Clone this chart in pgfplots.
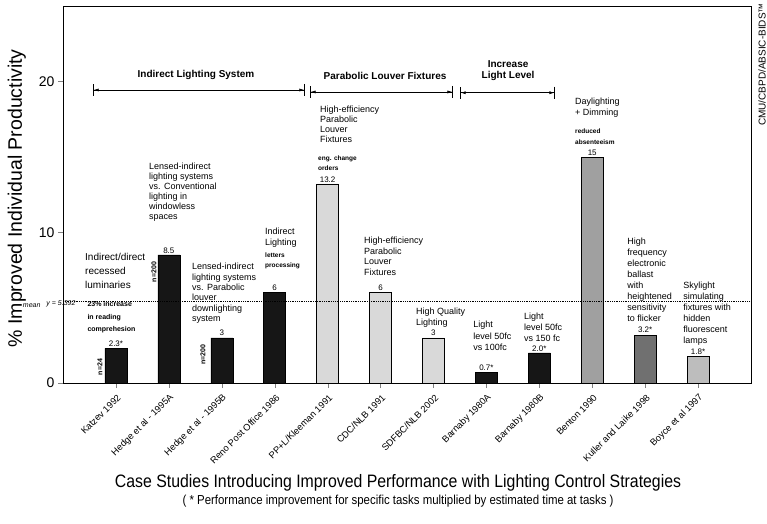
\documentclass[border=0pt]{standalone}
\usepackage{fontspec}
\setmainfont{Liberation Sans}
\newfontfamily\narrowfont[FakeStretch=0.88]{Liberation Sans}
\usepackage{pgfplots}
\pgfplotsset{compat=1.18}
\usetikzlibrary{arrows.meta}
\definecolor{barblack}{HTML}{161616}
\definecolor{barlight}{HTML}{D9D9D9}
\definecolor{barmid}{HTML}{A0A0A0}
\definecolor{bardark}{HTML}{707070}
\definecolor{barboyce}{HTML}{BDBDBD}
\newcommand{\fs}[2]{\fontsize{#1}{#2}\selectfont}
\begin{document}
\begin{tikzpicture}[x=1pt,y=1pt,
  ann/.style={anchor=north west, align=left, inner sep=0pt, font=\fs{9}{10.5}},
  sm/.style={anchor=north west, align=left, inner sep=0pt, font=\fs{6.5}{10}\bfseries},
  grp/.style={align=center, inner sep=0pt, font=\fs{10}{11.5}\bfseries},
  garr/.style={line width=0.6pt, {Bar[width=12pt]Latex[length=5pt,width=3pt]}-{Latex[length=5pt,width=3pt]Bar[width=12pt]}}]
\path (-63,-140) rectangle (704,383);
\begin{axis}[
  at={(0,0)}, anchor=south west,
  width=688pt, height=377pt, scale only axis,
  xmin=0, xmax=13, ymin=0, ymax=25,
  xtick={1,...,12},
  xticklabels={Katzev 1992, Hedge et al - 1995A, Hedge et al - 1995B, Reno Post Office 1986, PP+L/Kleeman 1991, CDC/NLB 1991, SDFBC/NLB 2002, Barnaby 1980A, Barnaby 1980B, Benton 1990, Kuller and Laike 1998, Boyce et al 1997},
  xticklabel style={rotate=45, anchor=east, yshift=-8pt, xshift=0pt, font=\fs{9.3}{10}},
  ytick={0,10,20},
  yticklabel style={font=\fs{14}{16}},
  /pgf/number format/assume math mode=true,
  tick align=outside,
  xtick pos=bottom, ytick pos=left,
  major tick length=5pt,
  ylabel={\% Improved Individual Productivity},
  ylabel style={at={(axis description cs:-0.067,0.49)}, anchor=center, font=\fs{19.5}{21}},
  clip=false,
  axis line style={line width=0.9pt},
  every node near coord/.append style={font=\fs{8}{9}, inner sep=1.5pt},
]
\addplot[ybar, bar width=22pt, bar shift=0pt, fill=barblack, draw=black,
  nodes near coords, point meta=explicit symbolic]
  coordinates {(1,2.3)[2.3*] (2,8.5)[8.5] (3,3)[3] (4,6)[6] (8,0.7)[0.7*] (9,2.0)[2.0*]};
\addplot[ybar, bar width=22pt, bar shift=0pt, fill=barlight, draw=black,
  nodes near coords, point meta=explicit symbolic]
  coordinates {(5,13.2)[13.2] (6,6)[6] (7,3)[3]};
\addplot[ybar, bar width=22pt, bar shift=0pt, fill=barmid, draw=black,
  nodes near coords, point meta=explicit symbolic]
  coordinates {(10,15)[15]};
\addplot[ybar, bar width=22pt, bar shift=0pt, fill=bardark, draw=black,
  nodes near coords, point meta=explicit symbolic]
  coordinates {(11,3.2)[3.2*]};
\addplot[ybar, bar width=22pt, bar shift=0pt, fill=barboyce, draw=black,
  nodes near coords, point meta=explicit symbolic]
  coordinates {(12,1.8)[1.8*]};
\addplot[densely dotted, line width=0.8pt] coordinates {(0,5.392) (13,5.392)};

% mean label
\node[anchor=west, inner sep=0pt, font=\fs{7}{8}\itshape] at (axis cs:-0.76,5.25) {\raisebox{-2pt}{mean}\hspace{6pt}y = 5.392};

% group headers
\node[grp] at (axis cs:2.513,20.42) {Indirect Lighting System};
\node[grp] at (axis cs:6.085,20.38) {Parabolic Louver Fixtures};
\node[grp] at (axis cs:8.41,20.72) {Increase\\Light Level};
\draw[garr] (axis cs:0.567,19.43) -- (axis cs:4.573,19.43);
\draw[garr] (axis cs:4.667,19.3) -- (axis cs:7.370,19.3);
\draw[garr] (axis cs:7.502,19.25) -- (axis cs:9.297,19.25);

% annotations
\node[ann, font=\fs{10}{14}] at (axis cs:0.416,8.62) {Indirect/direct\\recessed\\luminaries};
\node[sm, font=\fs{7}{12.5}\bfseries] at (axis cs:0.46,5.40) {23\% increase\\in reading\\comprehesion};
\node[rotate=90, inner sep=0pt, font=\fs{7}{8}\bfseries] at (axis cs:0.699,1.06) {n=24};

\node[ann, font=\fs{9}{10}] at (axis cs:1.625,14.59) {Lensed-indirect\\lighting systems\\vs. Conventional\\lighting in\\windowless\\spaces};
\node[rotate=90, inner sep=0pt, font=\fs{7}{8}\bfseries] at (axis cs:1.72,7.36) {n=200};

\node[ann, font=\fs{9}{10.4}] at (axis cs:2.438,7.96) {Lensed-indirect\\lighting systems\\vs. Parabolic\\louver\\downlighting\\system};
\node[rotate=90, inner sep=0pt, font=\fs{7}{8}\bfseries] at (axis cs:2.645,1.86) {n=200};

\node[ann, font=\fs{9}{11}] at (axis cs:3.817,10.28) {Indirect\\Lighting};
\node[sm] at (axis cs:3.817,8.62) {letters\\processing};

\node[ann, font=\fs{9}{10}] at (axis cs:4.856,18.37) {High-efficiency\\Parabolic\\Louver\\Fixtures};
\node[sm] at (axis cs:4.819,15.05) {eng. change\\orders};

\node[ann, font=\fs{9}{10.5}] at (axis cs:5.688,9.68) {High-efficiency\\Parabolic\\Louver\\Fixtures};

\node[ann, font=\fs{9}{10.5}] at (axis cs:6.670,4.97) {High Quality\\Lighting};

\node[ann, font=\fs{9}{11.5}] at (axis cs:7.748,4.11) {Light\\level 50fc\\vs 100fc};

\node[ann, font=\fs{9}{11}] at (axis cs:8.711,4.64) {Light\\level 50fc\\vs 150 fc};

\node[ann, font=\fs{9}{11}] at (axis cs:9.675,18.90) {Daylighting\\+ Dimming};
\node[sm, font=\fs{6.5}{11}\bfseries] at (axis cs:9.675,16.84) {reduced\\absenteeism};

\node[ann, font=\fs{9}{11}] at (axis cs:10.658,9.62) {High\\frequency\\electronic\\ballast\\with\\heightened\\sensitivity\\to flicker};

\node[ann, font=\fs{9}{11}] at (axis cs:11.716,6.70) {Skylight\\simulating\\fixtures with\\hidden\\fluorescent\\lamps};

% titles
\node[font=\narrowfont\fs{18}{20}] at (axis description cs:0.487,-0.266) {Case Studies Introducing Improved Performance with Lighting Control Strategies};
\node[font=\narrowfont\fs{13}{15}] at (axis description cs:0.487,-0.313) {( * Performance improvement for specific tasks multiplied by estimated time at tasks )};

% side mark
\node[rotate=90, anchor=east, inner sep=0pt, font=\fs{10}{11}] at (axis description cs:1.016,1.008) {CMU/CBPD/ABSIC-BIDS™};
\end{axis}
\end{tikzpicture}
\end{document}
